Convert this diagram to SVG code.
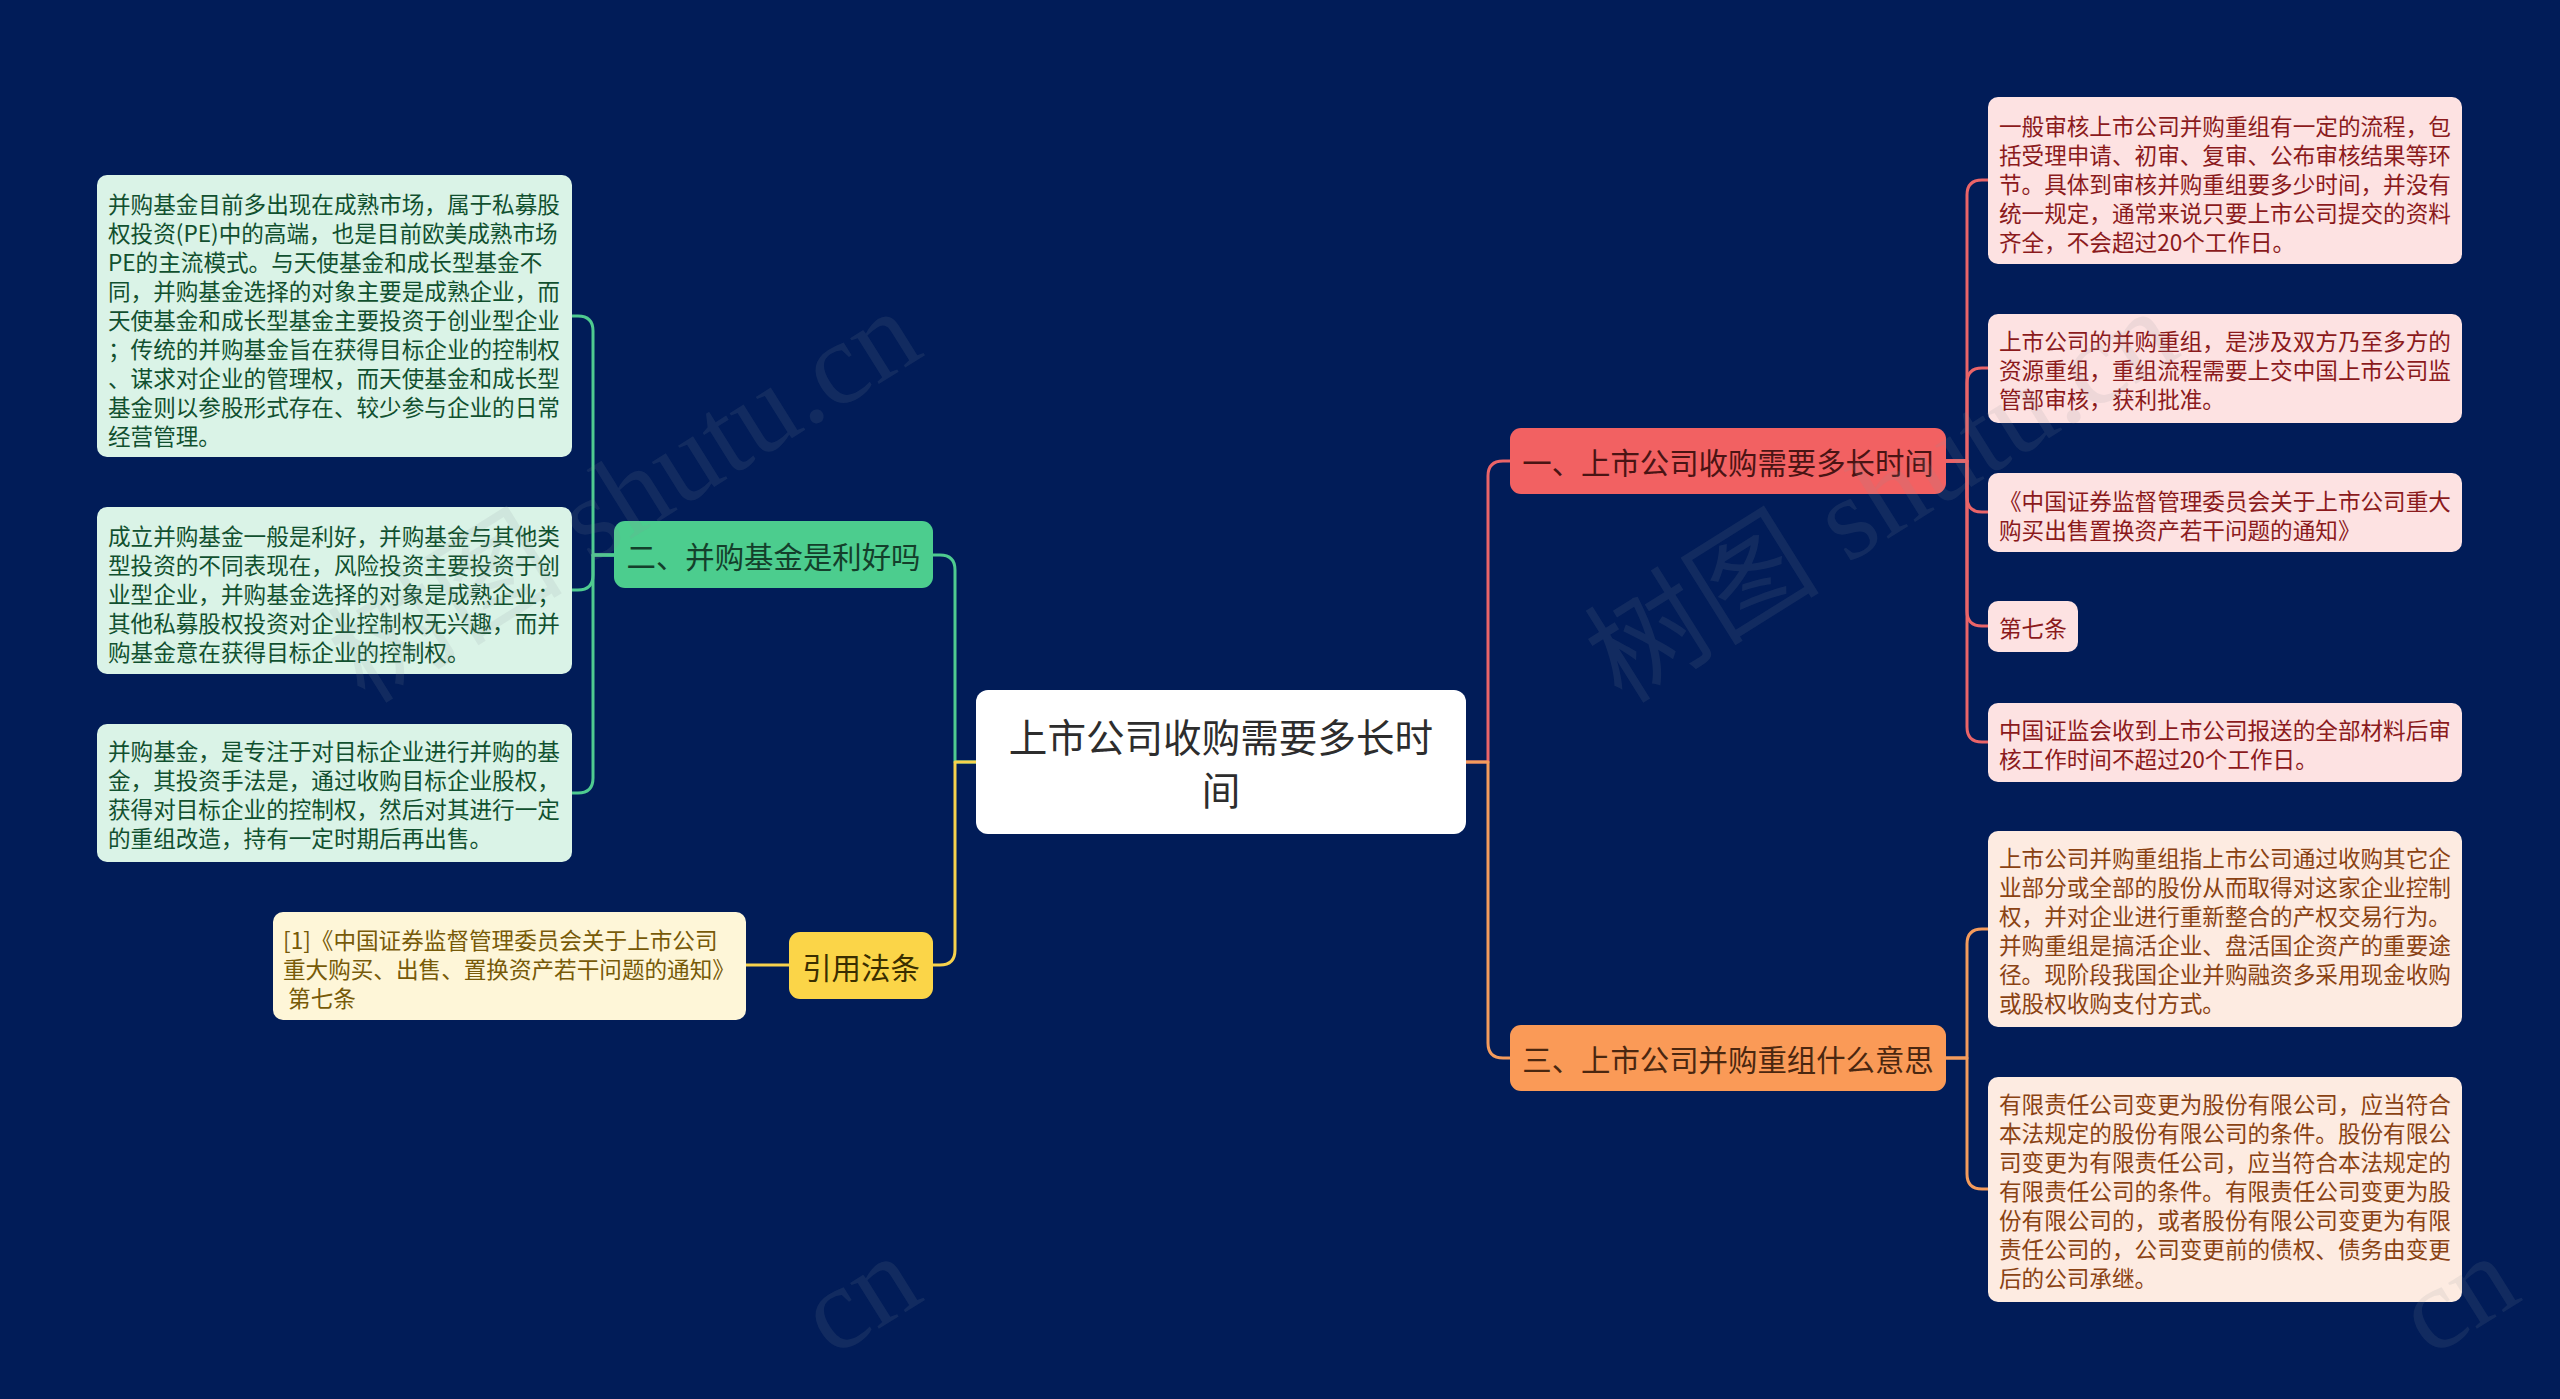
<svg xmlns="http://www.w3.org/2000/svg" width="2560" height="1399" viewBox="0 0 2560 1399">
<style>
text{font-family:"Noto Sans CJK SC","Noto Sans",sans-serif;}
.leaf{font-size:22.6px;dominant-baseline:central;}
.br{font-size:29.4px;dominant-baseline:central;text-anchor:middle;}
.c{fill:none;stroke-width:3;stroke-linecap:round;stroke-linejoin:round;}
.cg{stroke:#4fcb90;} .cy{stroke:#f7d24c;} .cr{stroke:#ea6468;} .co{stroke:#f49b5c;}
.wm{font-family:"Liberation Serif","Noto Sans CJK SC",serif;font-size:118px;fill:#8a8f9c;fill-opacity:0.13;}
</style>
<rect x="0" y="0" width="2560" height="1399" fill="#011c58"/>

<g id="connectors">
<path class="c cg" d="M976,762 H955 V570 Q955,555 940,555 H933"/>
<path class="c cy" d="M976,762 H955 V950 Q955,965 940,965 H933"/>
<path class="c cr" d="M1466,762 H1488 V476 Q1488,461 1503,461 H1510"/>
<path class="c co" d="M1466,762 H1488 V1043 Q1488,1058 1503,1058 H1510"/>
<path class="c cg" d="M614,555 H593 V331 Q593,316 578,316 H572"/>
<path class="c cg" d="M614,555 H593 V575 Q593,590 578,590 H572"/>
<path class="c cg" d="M614,555 H593 V778 Q593,793 578,793 H572"/>
<path class="c cy" d="M789,965 H746"/>
<path class="c cr" d="M1946,461 H1967 V195 Q1967,180 1982,180 H1988"/>
<path class="c cr" d="M1946,461 H1967 V383 Q1967,368 1982,368 H1988"/>
<path class="c cr" d="M1946,461 H1967 V497 Q1967,512 1982,512 H1988"/>
<path class="c cr" d="M1946,461 H1967 V611 Q1967,626 1982,626 H1988"/>
<path class="c cr" d="M1946,461 H1967 V727 Q1967,742 1982,742 H1988"/>
<path class="c co" d="M1946,1058 H1967 V944 Q1967,929 1982,929 H1988"/>
<path class="c co" d="M1946,1058 H1967 V1174 Q1967,1189 1982,1189 H1988"/>
</g>

<g id="root">
<rect x="976" y="690" width="490" height="144" rx="12" fill="#ffffff"/>
<text x="1221" y="735" font-size="38.6" fill="#2d2d2d" text-anchor="middle" dominant-baseline="central">上市公司收购需要多长时</text>
<text x="1221" y="788" font-size="38.6" fill="#2d2d2d" text-anchor="middle" dominant-baseline="central">间</text>
</g>

<g id="b1">
<rect x="1510" y="428" width="436" height="66" rx="11" fill="#f26162"/>
<text class="br" x="1728" y="461" fill="#4a1414">一、上市公司收购需要多长时间</text>
</g>
<g id="b2">
<rect x="614" y="521" width="319" height="67" rx="11" fill="#4ccd8e"/>
<text class="br" x="773.5" y="555" fill="#143f2b">二、并购基金是利好吗</text>
</g>
<g id="b3">
<rect x="1510" y="1025" width="436" height="66" rx="11" fill="#fa9a57"/>
<text class="br" x="1728" y="1058" fill="#4a2710">三、上市公司并购重组什么意思</text>
</g>
<g id="b4">
<rect x="789" y="932" width="144" height="67" rx="11" fill="#fbd548"/>
<text class="br" x="861" y="965.5" fill="#3a2e00">引用法条</text>
</g>

<g id="l1">
<rect x="97" y="175" width="475" height="282" rx="10" fill="#daf3e7"/>
<text class="leaf" fill="#11502f">
<tspan x="108" y="203">并购基金目前多出现在成熟市场，属于私募股</tspan>
<tspan x="108" y="232">权投资(PE)中的高端，也是目前欧美成熟市场</tspan>
<tspan x="108" y="261">PE的主流模式。与天使基金和成长型基金不</tspan>
<tspan x="108" y="290">同，并购基金选择的对象主要是成熟企业，而</tspan>
<tspan x="108" y="319">天使基金和成长型基金主要投资于创业型企业</tspan>
<tspan x="108" y="348">；传统的并购基金旨在获得目标企业的控制权</tspan>
<tspan x="108" y="377">、谋求对企业的管理权，而天使基金和成长型</tspan>
<tspan x="108" y="406">基金则以参股形式存在、较少参与企业的日常</tspan>
<tspan x="108" y="435">经营管理。</tspan>
</text>
</g>
<g id="l2">
<rect x="97" y="507" width="475" height="167" rx="10" fill="#daf3e7"/>
<text class="leaf" fill="#11502f">
<tspan x="108" y="535">成立并购基金一般是利好，并购基金与其他类</tspan>
<tspan x="108" y="564">型投资的不同表现在，风险投资主要投资于创</tspan>
<tspan x="108" y="593">业型企业，并购基金选择的对象是成熟企业；</tspan>
<tspan x="108" y="622">其他私募股权投资对企业控制权无兴趣，而并</tspan>
<tspan x="108" y="651">购基金意在获得目标企业的控制权。</tspan>
</text>
</g>
<g id="l3">
<rect x="97" y="724" width="475" height="138" rx="10" fill="#daf3e7"/>
<text class="leaf" fill="#11502f">
<tspan x="108" y="750">并购基金，是专注于对目标企业进行并购的基</tspan>
<tspan x="108" y="779">金，其投资手法是，通过收购目标企业股权，</tspan>
<tspan x="108" y="808">获得对目标企业的控制权，然后对其进行一定</tspan>
<tspan x="108" y="837">的重组改造，持有一定时期后再出售。</tspan>
</text>
</g>
<g id="cite">
<rect x="273" y="912" width="473" height="108" rx="10" fill="#fef6d8"/>
<text class="leaf" fill="#775a08">
<tspan x="283" y="939">[1]《中国证券监督管理委员会关于上市公司</tspan>
<tspan x="283" y="968">重大购买、出售、置换资产若干问题的通知》</tspan>
<tspan x="283" y="997" xml:space="preserve"> 第七条</tspan>
</text>
</g>

<g id="r1">
<rect x="1988" y="97" width="474" height="167" rx="10" fill="#fde2e2"/>
<text class="leaf" fill="#8b1a1c">
<tspan x="1999" y="125">一般审核上市公司并购重组有一定的流程，包</tspan>
<tspan x="1999" y="154">括受理申请、初审、复审、公布审核结果等环</tspan>
<tspan x="1999" y="183">节。具体到审核并购重组要多少时间，并没有</tspan>
<tspan x="1999" y="212">统一规定，通常来说只要上市公司提交的资料</tspan>
<tspan x="1999" y="241">齐全，不会超过20个工作日。</tspan>
</text>
</g>
<g id="r2">
<rect x="1988" y="314" width="474" height="109" rx="10" fill="#fde2e2"/>
<text class="leaf" fill="#8b1a1c">
<tspan x="1999" y="340">上市公司的并购重组，是涉及双方乃至多方的</tspan>
<tspan x="1999" y="369">资源重组，重组流程需要上交中国上市公司监</tspan>
<tspan x="1999" y="398">管部审核，获利批准。</tspan>
</text>
</g>
<g id="r3">
<rect x="1988" y="473" width="474" height="79" rx="10" fill="#fde2e2"/>
<text class="leaf" fill="#8b1a1c">
<tspan x="1999" y="500">《中国证券监督管理委员会关于上市公司重大</tspan>
<tspan x="1999" y="529">购买出售置换资产若干问题的通知》</tspan>
</text>
</g>
<g id="r4">
<rect x="1988" y="601" width="90" height="51" rx="10" fill="#fde2e2"/>
<text class="leaf" fill="#8b1a1c" x="1999" y="627">第七条</text>
</g>
<g id="r5">
<rect x="1988" y="703" width="474" height="79" rx="10" fill="#fde2e2"/>
<text class="leaf" fill="#8b1a1c">
<tspan x="1999" y="729">中国证监会收到上市公司报送的全部材料后审</tspan>
<tspan x="1999" y="758">核工作时间不超过20个工作日。</tspan>
</text>
</g>
<g id="r6">
<rect x="1988" y="831" width="474" height="196" rx="10" fill="#fdebe1"/>
<text class="leaf" fill="#8a4213">
<tspan x="1999" y="857">上市公司并购重组指上市公司通过收购其它企</tspan>
<tspan x="1999" y="886">业部分或全部的股份从而取得对这家企业控制</tspan>
<tspan x="1999" y="915">权，并对企业进行重新整合的产权交易行为。</tspan>
<tspan x="1999" y="944">并购重组是搞活企业、盘活国企资产的重要途</tspan>
<tspan x="1999" y="973">径。现阶段我国企业并购融资多采用现金收购</tspan>
<tspan x="1999" y="1002">或股权收购支付方式。</tspan>
</text>
</g>
<g id="r7">
<rect x="1988" y="1077" width="474" height="225" rx="10" fill="#fdebe1"/>
<text class="leaf" fill="#8a4213">
<tspan x="1999" y="1103">有限责任公司变更为股份有限公司，应当符合</tspan>
<tspan x="1999" y="1132">本法规定的股份有限公司的条件。股份有限公</tspan>
<tspan x="1999" y="1161">司变更为有限责任公司，应当符合本法规定的</tspan>
<tspan x="1999" y="1190">有限责任公司的条件。有限责任公司变更为股</tspan>
<tspan x="1999" y="1219">份有限公司的，或者股份有限公司变更为有限</tspan>
<tspan x="1999" y="1248">责任公司的，公司变更前的债权、债务由变更</tspan>
<tspan x="1999" y="1277">后的公司承继。</tspan>
</text>
</g>

<g id="watermarks">
<text class="wm" x="365" y="705" transform="rotate(-32 365 705)">树图 shutu.cn</text>
<text class="wm" x="1622" y="705" transform="rotate(-32 1622 705)">树图 shutu.cn</text>
<text class="wm" x="832" y="1358" transform="rotate(-32 832 1358)">cn</text>
<text class="wm" x="2430" y="1358" transform="rotate(-32 2430 1358)">cn</text>
</g>
</svg>
